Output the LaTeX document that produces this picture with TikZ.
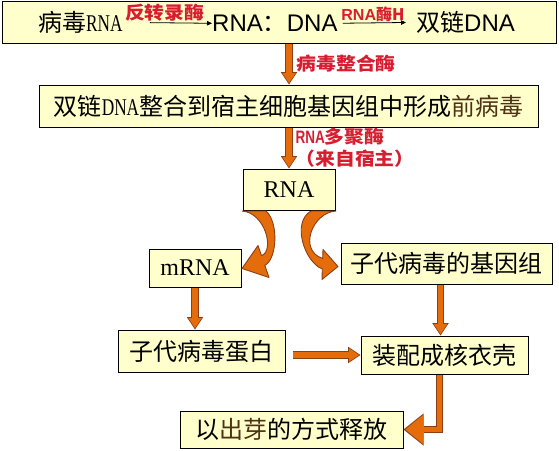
\documentclass[tikz,border=0pt]{standalone}
\usepackage{fontspec}
\usepackage{graphicx}
\setmainfont{Liberation Serif}
\newfontfamily\cjk{Noto Sans CJK SC}
\newfontfamily\arial{Liberation Sans}
\usetikzlibrary{arrows.meta}

\definecolor{boxyellow}{RGB}{255,255,204}
\definecolor{arroworange}{RGB}{228,108,10}
\definecolor{arrowedge}{RGB}{140,62,20}
\definecolor{labred}{RGB}{214,30,48}
\definecolor{textbrown}{RGB}{78,48,20}

\newcommand{\narrow}[1]{\scalebox{0.72}[1]{\rmfamily #1}}
\newcommand{\narrowb}[1]{\scalebox{0.75}[1]{\arial #1}}
\newcommand{\wide}[1]{\scalebox{1.1}[1]{#1}}

\tikzset{
  box/.style={draw=black, line width=1pt, fill=boxyellow, inner sep=0pt,
    font=\cjk\fontsize{24}{28}\selectfont},
  plain/.style={inner sep=0pt, font=\cjk\fontsize{24}{28}\selectfont},
  redlab/.style={inner sep=0pt, text=labred, font=\cjk\bfseries\fontsize{18}{22}\selectfont},
  thinarr/.style={line width=0.8pt, -{Triangle[width=4.5pt,length=5pt]}},
  fat/.style={line width=5.4pt, draw=arroworange, shorten >=1.5pt,
    -{Triangle[width=13.5pt,length=10pt,line width=0pt]},
    preaction={draw=arrowedge, line width=7.4pt, shorten >=0pt,
      -{Triangle[width=16.5pt,length=12.5pt,line width=0pt]}}},
  bigfat/.style={line width=5.4pt, draw=arroworange, shorten >=1.8pt,
    -{Triangle[width=28.5pt,length=17.5pt,line width=0pt]},
    preaction={draw=arrowedge, line width=7.4pt, shorten >=0pt,
      -{Triangle[width=32pt,length=20pt,line width=0pt]}}},
  curved/.style={fill=arroworange, draw=arrowedge, line width=0.9pt, line join=round}
}

\begin{document}
\begin{tikzpicture}[x=1pt, y=-1pt]
\useasboundingbox (0,0) rectangle (559,450);

% reverse transcription line
\node[box, minimum width=554pt, minimum height=42pt] (top) at (279,22) {};
\node[plain, anchor=base west] (vrna) at (38,31.5) {病毒\narrow{RNA}};
\node[plain, anchor=base west, font=\arial\fontsize{24}{28}\selectfont] (hyb) at (212,31.5) {RNA{\cjk ：}DNA};
\node[plain, anchor=base west] (ds) at (416,31.5) {双链{\arial DNA}};
\draw[thinarr, shorten <=27pt] (vrna.east) -- (hyb.west)
  node[redlab, above=1pt, pos=0.47] {\wide{反转录酶}};
\draw[thinarr, shorten <=5pt, shorten >=10pt] (hyb.east) -- (ds.west)
  node[redlab, above=1pt, pos=0.45, font=\cjk\bfseries\fontsize{16}{18}\selectfont] {{\arial RNA}酶H};

\node[box, minimum width=499pt, minimum height=42pt] (prov) at (288.5,106)
  {双链\narrow{DNA}整合到宿主细胞基因组中形成\textcolor{textbrown}{前病毒}};
\node[box, font=\rmfamily\fontsize{24}{28}\selectfont, minimum width=92pt, minimum height=41pt] (rna) at (289,189.5) {RNA};
\node[box, font=\rmfamily\fontsize{24}{28}\selectfont, minimum width=92pt, minimum height=38pt] (mrna) at (195,268) {mRNA};
\node[box, minimum width=211pt, minimum height=41pt] (gen) at (446.5,263.5) {子代病毒的基因组};
\node[box, minimum width=167pt, minimum height=42pt] (prot) at (201.5,351) {子代病毒蛋白};
\node[box, minimum width=167pt, minimum height=38pt] (asm) at (444.5,355) {装配成核衣壳};
\node[box, minimum width=223pt, minimum height=37pt] (rel) at (291.5,429.5) {以\textcolor{textbrown}{出芽}的方式释放};

\draw[fat] (top.south -| rna) -- (prov.north -| rna)
  node[redlab, right=5pt, pos=0.5] {\wide{病毒整合酶}};
\draw[fat] (prov.south -| rna) -- (rna.north)
  node[redlab, right=4pt, pos=0.5, align=left] {\narrowb{RNA}\wide{多聚酶}\\\wide{（来自宿主）}};

% the two bent arrows under RNA
\begin{scope}[shift={(rna.south)}]
  \filldraw[curved] (-47,0.5) .. controls (-24,2) and (-14,40) .. (-27.5,45.2)
    -- (-31,35) -- (-47,58) -- (-20,67) -- (-24.2,54.8)
    .. controls (-12,49) and (-10,12) .. (-23,0.5) -- cycle;
  \filldraw[curved] (47,0.5) .. controls (23,2) and (9,40) .. (33.7,48)
    -- (34,39) -- (49,56) -- (33,69) -- (33.3,58.5)
    .. controls (16,52) and (2,12) .. (22,0.5) -- cycle;
\end{scope}

\draw[fat] (mrna.south) -- (prot.north -| mrna.south);
\draw[fat] ([xshift=-4pt]gen.south -| asm.north) -- ([xshift=-4pt]asm.north);
\draw[fat, shorten <=7pt] (prot.east |- asm.west) -- (asm.west);
\draw[bigfat] ([xshift=-5pt]asm.south) |- (rel.east);
\end{tikzpicture}
\end{document}
